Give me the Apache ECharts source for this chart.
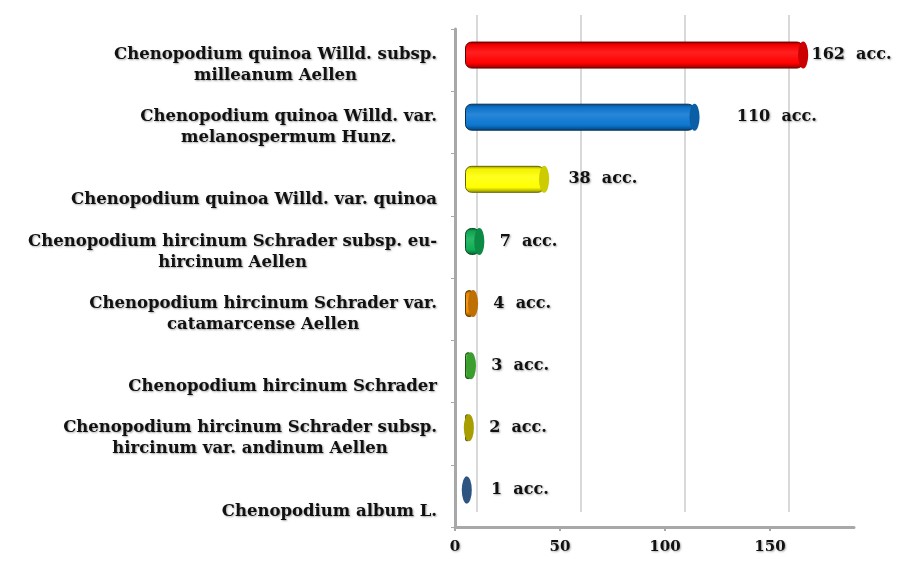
<!DOCTYPE html>
<html><head><meta charset="utf-8">
<script src="https://cdn.jsdelivr.net/npm/echarts@6/dist/echarts.min.js"></script>
<style>html,body{margin:0;padding:0;background:#fff}#c{width:901px;height:565px}</style>
</head><body><div id="c"></div>
<script>
const categories = [
  'Chenopodium quinoa Willd. subsp.\nmilleanum Aellen',
  'Chenopodium quinoa Willd. var.\nmelanospermum Hunz.',
  'Chenopodium quinoa Willd. var. quinoa',
  'Chenopodium hircinum Schrader subsp. eu-\nhircinum Aellen',
  'Chenopodium hircinum Schrader var.\ncatamarcense Aellen',
  'Chenopodium hircinum Schrader',
  'Chenopodium hircinum Schrader subsp.\nhircinum var. andinum Aellen',
  'Chenopodium album L.'
];
const accessions = [162, 110, 38, 7, 4, 3, 2, 1];
const xTicks = [0, 50, 100, 150];
const valueSuffix = '  acc.';

const barColors = ['#ff0000', '#0b76d0', '#ffff00', '#0fae55', '#f08c00', '#4cc63c', '#d2c600', '#3a6aa2'];
const labelGaps = [8, 42, 24, 20, 20, 20, 20, 24];

function shade(hex, f) {
  const n = parseInt(hex.slice(1), 16);
  let r = (n >> 16) & 255, g = (n >> 8) & 255, b = n & 255;
  if (f < 0) { r = r * (1 + f); g = g * (1 + f); b = b * (1 + f); }
  else { r = r + (255 - r) * f; g = g + (255 - g) * f; b = b + (255 - b) * f; }
  return 'rgb(' + Math.round(r) + ',' + Math.round(g) + ',' + Math.round(b) + ')';
}
function cyl(hex) {
  return new echarts.graphic.LinearGradient(0, 0, 0, 1, [
    { offset: 0, color: shade(hex, -0.45) },
    { offset: 0.12, color: shade(hex, -0.05) },
    { offset: 0.4, color: shade(hex, 0.12) },
    { offset: 0.8, color: hex },
    { offset: 1, color: shade(hex, -0.45) }
  ]);
}
const FONT = '"DejaVu Serif", serif';
const SHADOW = { textShadowColor: 'rgba(0,0,0,0.35)', textShadowBlur: 2, textShadowOffsetX: 1, textShadowOffsetY: 1 };

const barData = accessions.map((v, i) => ({
  value: v,
  itemStyle: { color: cyl(barColors[i]), borderColor: shade(barColors[i], -0.6), borderWidth: 1 },
  label: { distance: labelGaps[i] }
}));
const capData = accessions.map((v, i) => ({
  value: v,
  itemStyle: { color: shade(barColors[i], -0.2), borderColor: shade(barColors[i], -0.65), borderWidth: 1 }
}));

const chart = echarts.init(document.getElementById('c'));
chart.setOption({
  backgroundColor: '#ffffff',
  animation: false,
  grid: [
    { left: 455, right: 47, top: 29, bottom: 38 },   // front plane (axes)
    { left: 465, right: 39, top: 24, bottom: 44 },   // bars
    { left: 477, width: 312, top: 15, bottom: 53 }   // back wall
  ],
  xAxis: [
    {
      gridIndex: 0, type: 'value', min: 0, max: 190, interval: 50,
      axisLine: { show: true, lineStyle: { color: '#a8a8a8', width: 3 } },
      axisTick: { show: true, length: 4, customValues: xTicks, lineStyle: { color: '#a8a8a8', width: 2 } },
      axisLabel: Object.assign({ customValues: xTicks, margin: 13, fontFamily: FONT, fontWeight: 'bold', fontSize: 15, color: '#111' }, SHADOW),
      splitLine: { show: false }
    },
    { gridIndex: 1, type: 'value', min: 0, max: 190, show: false },
    {
      gridIndex: 2, type: 'value', min: 0, max: 150, interval: 50,
      axisLine: { show: false }, axisTick: { show: false }, axisLabel: { show: false },
      splitLine: { show: true, lineStyle: { color: '#d9d9d9', width: 2 } }
    }
  ],
  yAxis: [
    {
      gridIndex: 0, type: 'category', inverse: true, data: categories,
      axisLine: { show: true, lineStyle: { color: '#a8a8a8', width: 3 } },
      axisTick: { show: true, length: 4, lineStyle: { color: '#a8a8a8', width: 1 } },
      axisLabel: {
        margin: 18, align: 'right', verticalAlign: 'middle', padding: [10, 0, 0, 0],
        formatter: function (v) {
          const lines = v.split('\n');
          if (lines.length < 2) lines.unshift(' ');
          return lines.map(l => '{c|' + l + '}').join('\n');
        },
        rich: {
          c: Object.assign({ align: 'center', fontFamily: FONT, fontWeight: 'bold', fontSize: 16.5, lineHeight: 21, color: '#111' }, SHADOW)
        }
      }
    },
    { gridIndex: 1, type: 'category', inverse: true, data: categories, show: false },
    { gridIndex: 2, type: 'category', inverse: true, data: categories, show: false }
  ],
  series: [
    {
      type: 'bar', xAxisIndex: 1, yAxisIndex: 1, data: barData, barWidth: 27,
      itemStyle: { borderRadius: 6 },
      label: Object.assign({
        show: true, position: 'right', distance: 22,
        formatter: p => p.value + valueSuffix,
        fontFamily: FONT, fontWeight: 'bold', fontSize: 16, color: '#111'
      }, SHADOW),
      z: 3
    },
    {
      type: 'pictorialBar', xAxisIndex: 1, yAxisIndex: 1, data: capData,
      symbol: 'circle', symbolSize: [10, 27], symbolPosition: 'end', symbolOffset: ['50%', 0],
      z: 4
    }
  ]
});
</script></body></html>
